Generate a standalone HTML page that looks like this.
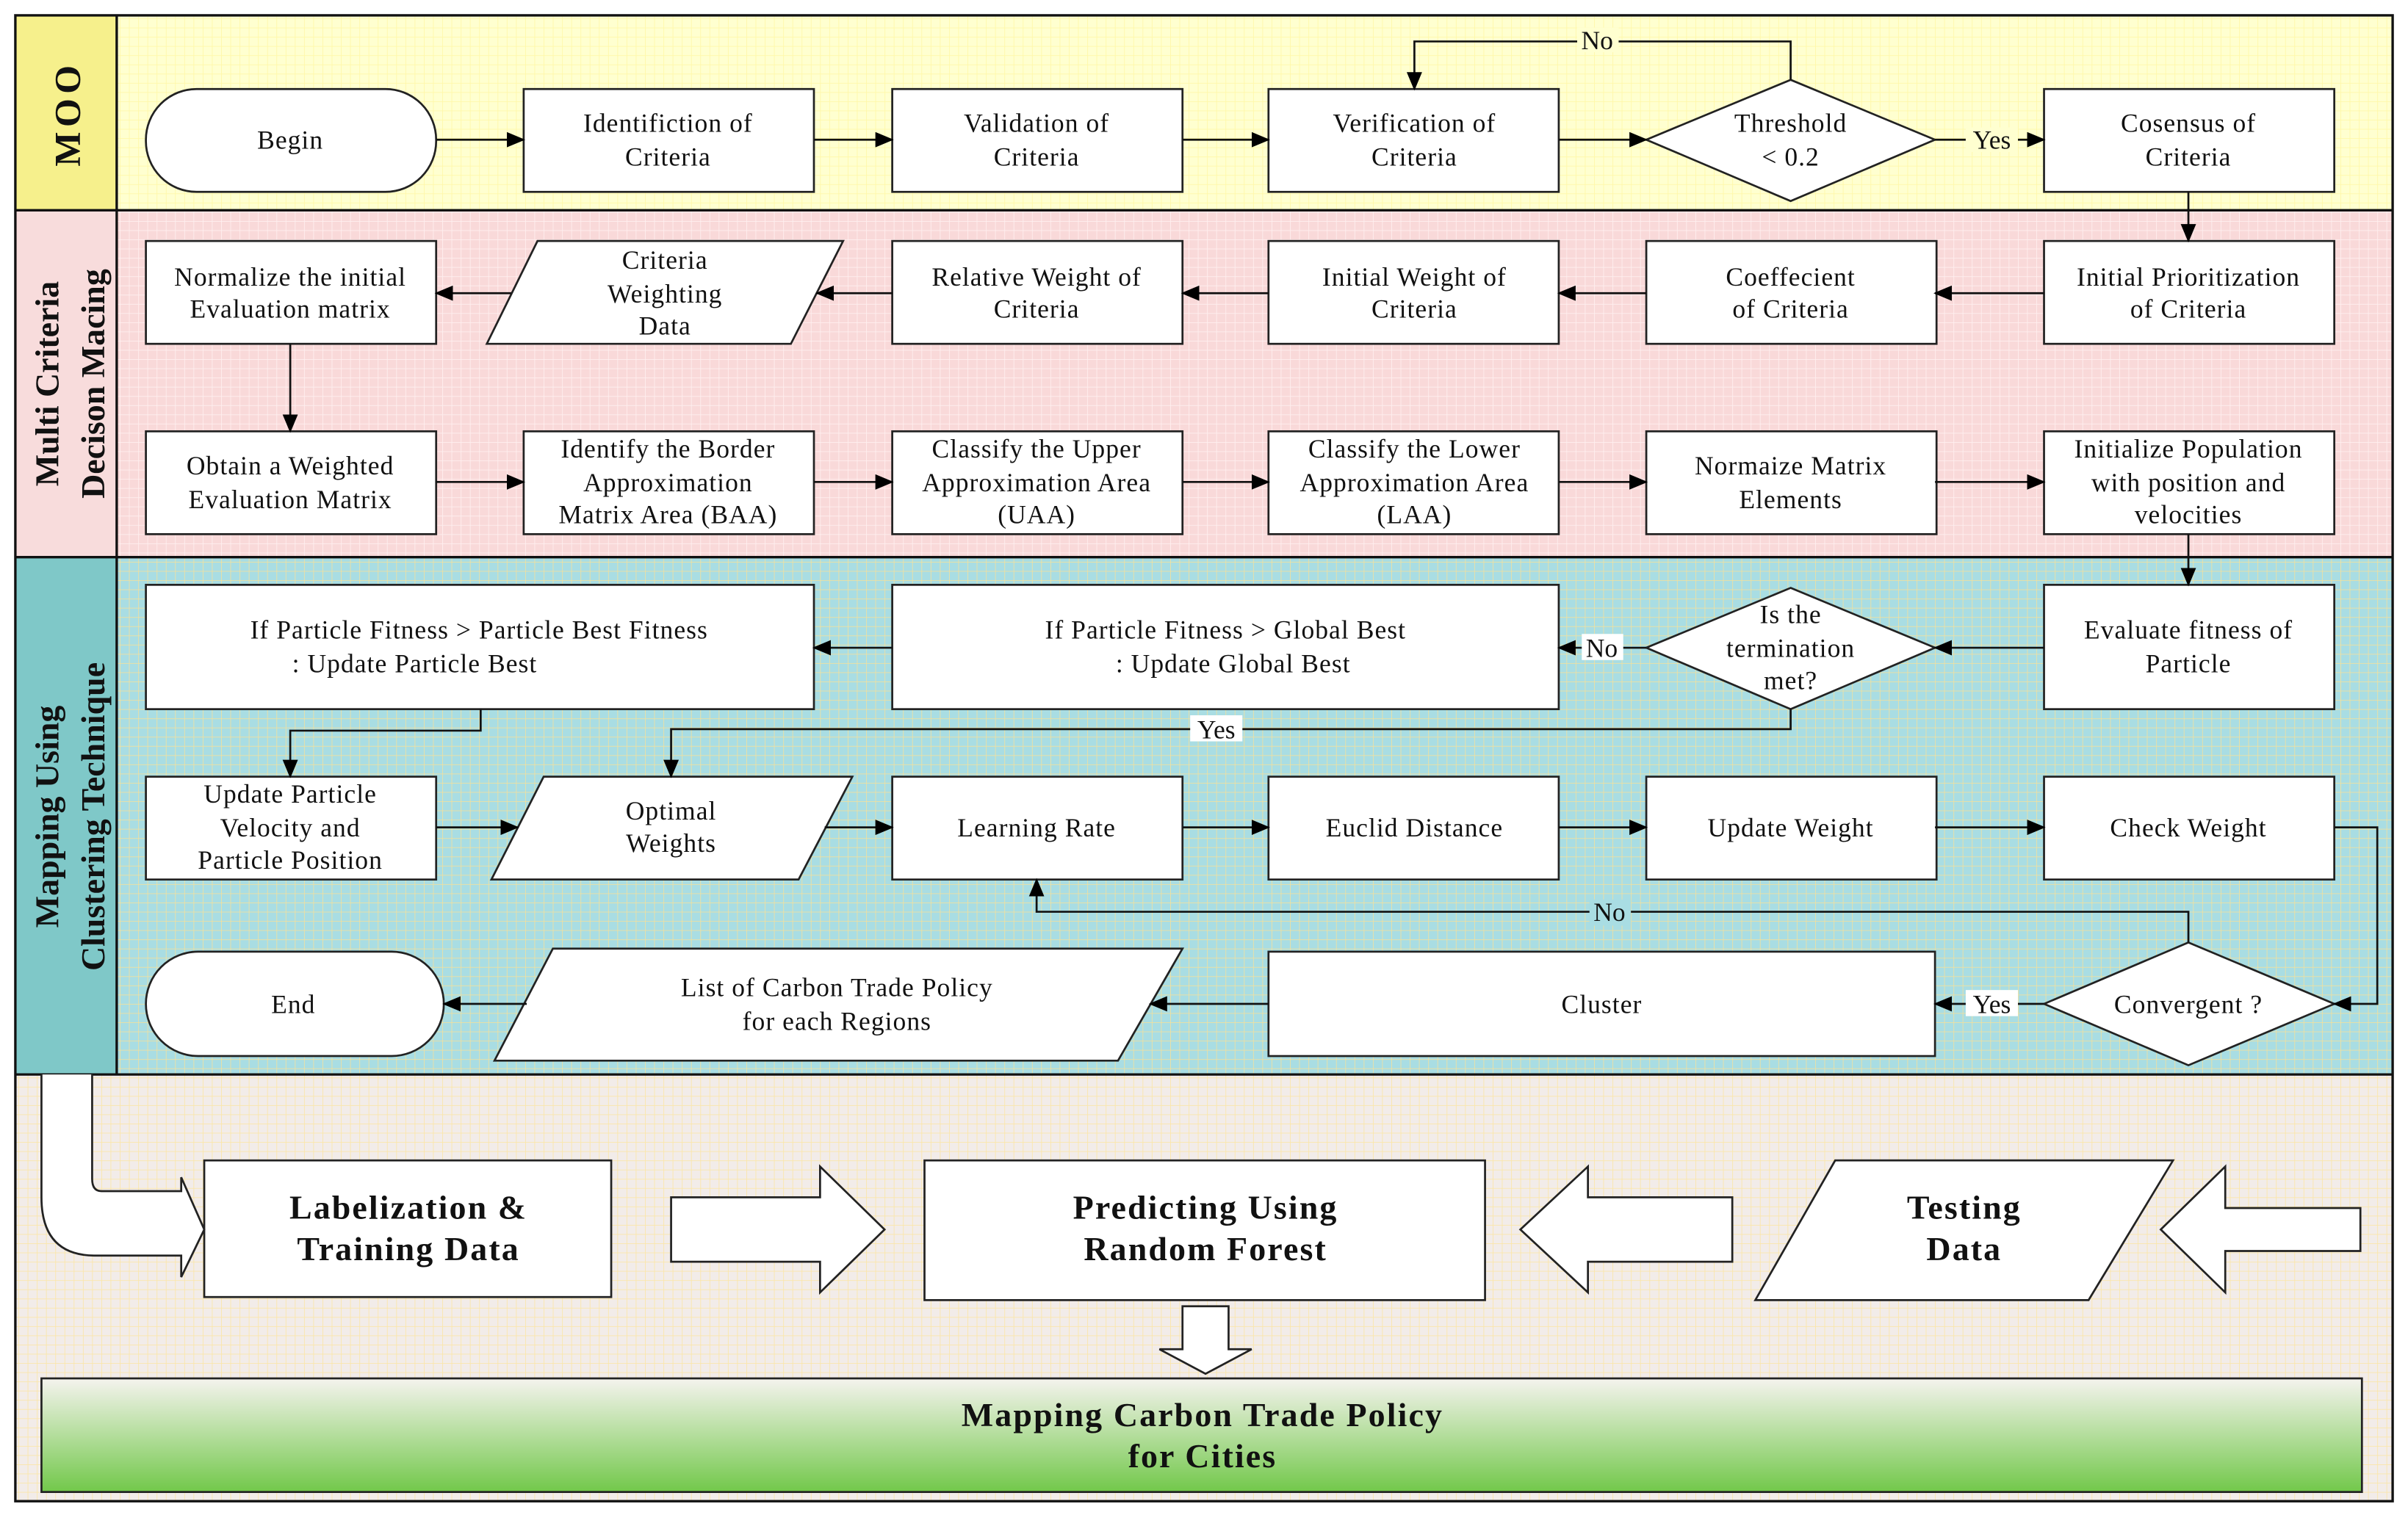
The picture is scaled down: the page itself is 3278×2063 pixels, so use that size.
<!DOCTYPE html>
<html><head><meta charset="utf-8"><style>
html,body{margin:0;padding:0;background:#fff;}
svg{display:block;}
text{font-family:"Liberation Serif",serif;font-size:17px;fill:#111;}
.b{font-weight:bold;}
</style></head><body>
<svg width="3278" height="2063" viewBox="0 0 1568 987" preserveAspectRatio="none" xmlns="http://www.w3.org/2000/svg">
<defs>
<marker id="ah" markerWidth="12" markerHeight="10" refX="11" refY="5" orient="auto" markerUnits="userSpaceOnUse">
<path d="M0,0 L12,5 L0,10 Z" fill="#000"/></marker>
<pattern id="gy" width="6" height="6" patternUnits="userSpaceOnUse"><rect width="6" height="6" fill="#ffffd0"/><path d="M0,0H6M0,0V6" stroke="#fff8a8" stroke-width="0.8"/></pattern>
<pattern id="gp" width="6" height="6" patternUnits="userSpaceOnUse"><rect width="6" height="6" fill="#f9d9d9"/><path d="M0,0H6M0,0V6" stroke="#fff0f0" stroke-width="0.8"/></pattern>
<pattern id="gb" width="6" height="6" patternUnits="userSpaceOnUse"><rect width="6" height="6" fill="#a9dde3"/><path d="M0,0H6M0,0V6" stroke="#f0e0a0" stroke-width="0.8"/></pattern>
<pattern id="gw" width="6" height="6" patternUnits="userSpaceOnUse"><rect width="6" height="6" fill="#f2ece9"/><path d="M0,0H6M0,0V6" stroke="#fbe6a8" stroke-width="0.8"/></pattern>
<linearGradient id="gg" x1="0" y1="0" x2="0" y2="1"><stop offset="0" stop-color="#f5f3ee"/><stop offset="1" stop-color="#72c84a"/></linearGradient>
</defs>
<rect width="1568" height="987" fill="#fff"/>
<!-- lanes -->
<rect x="10" y="10" width="1548" height="127" fill="url(#gy)"/>
<rect x="10" y="137" width="1548" height="226" fill="url(#gp)"/>
<rect x="10" y="363" width="1548" height="337" fill="url(#gb)"/>
<rect x="10" y="700" width="1548" height="278" fill="url(#gw)"/>
<rect x="10" y="10" width="66" height="127" fill="#f6f08c"/>
<rect x="10" y="137" width="66" height="226" fill="#f8dcdc"/>
<rect x="10" y="363" width="66" height="337" fill="#7fc8c8"/>
<g stroke="#111" stroke-width="1.6" fill="none">
<rect x="10" y="10" width="1548" height="968"/>
<line x1="10" y1="137" x2="1558" y2="137"/>
<line x1="10" y1="363" x2="1558" y2="363"/>
<line x1="10" y1="700" x2="1558" y2="700"/>
<line x1="76" y1="10" x2="76" y2="700"/>
</g>
<text class="b" transform="translate(52,74) rotate(-90)" text-anchor="middle" style="font-size:24px;letter-spacing:3px">MOO</text>
<text class="b" transform="translate(38,250) rotate(-90)" text-anchor="middle" style="font-size:22px">Multi Criteria</text>
<text class="b" transform="translate(68,250) rotate(-90)" text-anchor="middle" style="font-size:22px">Decison Macing</text>
<text class="b" transform="translate(38,532) rotate(-90)" text-anchor="middle" style="font-size:22px">Mapping Using</text>
<text class="b" transform="translate(68,532) rotate(-90)" text-anchor="middle" style="font-size:22px">Clustering Technique</text>

<g fill="#fff" stroke="#222" stroke-width="1.3">
<!-- row1 -->
<rect x="95" y="58" width="189" height="67" rx="33"/>
<rect x="341" y="58" width="189" height="67"/>
<rect x="581" y="58" width="189" height="67"/>
<rect x="826" y="58" width="189" height="67"/>
<polygon points="1166,52 1260,91 1166,131 1072,91"/>
<rect x="1331" y="58" width="189" height="67"/>
<!-- row2 -->
<rect x="95" y="157" width="189" height="67"/>
<polygon points="350,157 549,157 515,224 317,224"/>
<rect x="581" y="157" width="189" height="67"/>
<rect x="826" y="157" width="189" height="67"/>
<rect x="1072" y="157" width="189" height="67"/>
<rect x="1331" y="157" width="189" height="67"/>
<!-- row3 -->
<rect x="95" y="281" width="189" height="67"/>
<rect x="341" y="281" width="189" height="67"/>
<rect x="581" y="281" width="189" height="67"/>
<rect x="826" y="281" width="189" height="67"/>
<rect x="1072" y="281" width="189" height="67"/>
<rect x="1331" y="281" width="189" height="67"/>
<!-- row4 -->
<rect x="95" y="381" width="435" height="81"/>
<rect x="581" y="381" width="434" height="81"/>
<polygon points="1166,383 1260,422 1166,462 1072,422"/>
<rect x="1331" y="381" width="189" height="81"/>
<!-- row5 -->
<rect x="95" y="506" width="189" height="67"/>
<polygon points="354,506 555,506 520,573 320,573"/>
<rect x="581" y="506" width="189" height="67"/>
<rect x="826" y="506" width="189" height="67"/>
<rect x="1072" y="506" width="189" height="67"/>
<rect x="1331" y="506" width="189" height="67"/>
<!-- row6 -->
<rect x="95" y="620" width="194" height="68" rx="34"/>
<polygon points="360,618 770,618 728,691 322,691"/>
<rect x="826" y="620" width="434" height="68"/>
<polygon points="1425,614 1520,654 1425,694 1331,654"/>
<!-- bottom -->
<rect x="133" y="756" width="265" height="89"/>
<rect x="602" y="756" width="365" height="91"/>
<polygon points="1195,756 1415,756 1360,847 1143,847"/>
<rect x="27" y="898" width="1511" height="74" fill="url(#gg)"/>
<!-- block arrows -->
<polygon points="437,780 534,780 534,760 576,801 534,842 534,822 437,822"/>
<polygon points="1128,780 1034,780 1034,760 990,801 1034,842 1034,822 1128,822"/>
<polygon points="1537,787 1449,787 1449,760 1407,801 1449,842 1449,815 1537,815"/>
<polygon points="770,851 800,851 800,879 815,879 785,895 755,879 770,879"/>
<path d="M27,700 L27,780 Q27,818 62,818 L118,818 L118,832 L133,801 L118,767 L118,776 L66,776 Q60,776 60,768 L60,700"/>
</g>

<!-- connectors -->
<g stroke="#111" stroke-width="1.3" fill="none" marker-end="url(#ah)">
<line x1="284" y1="91" x2="341" y2="91"/>
<line x1="530" y1="91" x2="581" y2="91"/>
<line x1="770" y1="91" x2="826" y2="91"/>
<line x1="1015" y1="91" x2="1072" y2="91"/>
<line x1="1260" y1="91" x2="1331" y2="91"/>
<polyline points="1166,52 1166,27 921,27 921,58"/>
<line x1="1425" y1="125" x2="1425" y2="157"/>
<line x1="1331" y1="191" x2="1260" y2="191"/>
<line x1="1072" y1="191" x2="1015" y2="191"/>
<line x1="826" y1="191" x2="770" y2="191"/>
<line x1="581" y1="191" x2="532" y2="191"/>
<line x1="333" y1="191" x2="284" y2="191"/>
<line x1="189" y1="224" x2="189" y2="281"/>
<line x1="284" y1="314" x2="341" y2="314"/>
<line x1="530" y1="314" x2="581" y2="314"/>
<line x1="770" y1="314" x2="826" y2="314"/>
<line x1="1015" y1="314" x2="1072" y2="314"/>
<line x1="1260" y1="314" x2="1331" y2="314"/>
<line x1="1425" y1="348" x2="1425" y2="381"/>
<line x1="1331" y1="422" x2="1260" y2="422"/>
<line x1="1072" y1="422" x2="1015" y2="422"/>
<line x1="581" y1="422" x2="530" y2="422"/>
<polyline points="313,462 313,476 189,476 189,506"/>
<polyline points="1166,462 1166,475 437,475 437,506"/>
<line x1="284" y1="539" x2="337" y2="539"/>
<line x1="537" y1="539" x2="581" y2="539"/>
<line x1="770" y1="539" x2="826" y2="539"/>
<line x1="1015" y1="539" x2="1072" y2="539"/>
<line x1="1260" y1="539" x2="1331" y2="539"/>
<polyline points="1520,539 1548,539 1548,654 1520,654"/>
<polyline points="1425,614 1425,594 675,594 675,573"/>
<line x1="1331" y1="654" x2="1260" y2="654"/>
<line x1="826" y1="654" x2="749" y2="654"/>
<line x1="343" y1="654" x2="289" y2="654"/>
</g>
<!-- connector labels -->
<g>
<rect x="1027" y="18" width="27" height="16" fill="#ffffd0"/><text x="1040" y="32" text-anchor="middle">No</text>
<rect x="1280" y="83" width="34" height="16" fill="#ffffd0"/><text x="1297" y="97" text-anchor="middle">Yes</text>
<rect x="1030" y="413" width="27" height="17" fill="#fff"/><text x="1043" y="428" text-anchor="middle">No</text>
<rect x="775" y="466" width="34" height="17" fill="#fff"/><text x="792" y="481" text-anchor="middle">Yes</text>
<rect x="1035" y="586" width="27" height="17" fill="#a9dde3"/><text x="1048" y="600" text-anchor="middle">No</text>
<rect x="1280" y="645" width="34" height="17" fill="#fff"/><text x="1297" y="660" text-anchor="middle">Yes</text>
</g>
<!-- node text -->
<g text-anchor="middle" style="letter-spacing:0.5px">
<text x="189" y="97">Begin</text>
<text x="435" y="86">Identifiction of</text><text x="435" y="108">Criteria</text>
<text x="675" y="86">Validation of</text><text x="675" y="108">Criteria</text>
<text x="921" y="86">Verification  of</text><text x="921" y="108">Criteria</text>
<text x="1166" y="86">Threshold</text><text x="1166" y="108">&lt; 0.2</text>
<text x="1425" y="86">Cosensus of</text><text x="1425" y="108">Criteria</text>

<text x="189" y="186">Normalize the initial</text><text x="189" y="207">Evaluation matrix</text>
<text x="433" y="175">Criteria</text><text x="433" y="197">Weighting</text><text x="433" y="218">Data</text>
<text x="675" y="186">Relative  Weight of</text><text x="675" y="207">Criteria</text>
<text x="921" y="186">Initial Weight of</text><text x="921" y="207">Criteria</text>
<text x="1166" y="186">Coeffecient</text><text x="1166" y="207">of Criteria</text>
<text x="1425" y="186">Initial Prioritization</text><text x="1425" y="207">of Criteria</text>

<text x="189" y="309">Obtain a Weighted</text><text x="189" y="331">Evaluation Matrix</text>
<text x="435" y="298">Identify the Border</text><text x="435" y="320">Approximation</text><text x="435" y="341">Matrix Area (BAA)</text>
<text x="675" y="298">Classify the Upper</text><text x="675" y="320">Approximation Area</text><text x="675" y="341">(UAA)</text>
<text x="921" y="298">Classify the Lower</text><text x="921" y="320">Approximation Area</text><text x="921" y="341">(LAA)</text>
<text x="1166" y="309">Normaize Matrix</text><text x="1166" y="331">Elements</text>
<text x="1425" y="298">Initialize Population</text><text x="1425" y="320">with position and</text><text x="1425" y="341">velocities</text>

<text x="312" y="416">If Particle Fitness  &gt; Particle Best Fitness</text><text x="270" y="438">: Update Particle Best</text>
<text x="798" y="416">If  Particle Fitness  &gt; Global Best</text><text x="803" y="438">: Update Global Best</text>
<text x="1166" y="406">Is the</text><text x="1166" y="428">termination</text><text x="1166" y="449">met?</text>
<text x="1425" y="416">Evaluate fitness of</text><text x="1425" y="438">Particle</text>

<text x="189" y="523">Update Particle</text><text x="189" y="545">Velocity and</text><text x="189" y="566">Particle Position</text>
<text x="437" y="534">Optimal</text><text x="437" y="555">Weights</text>
<text x="675" y="545">Learning Rate</text>
<text x="921" y="545">Euclid Distance</text>
<text x="1166" y="545">Update Weight</text>
<text x="1425" y="545">Check Weight</text>

<text x="191" y="660">End</text>
<text x="545" y="649">List of Carbon Trade Policy</text><text x="545" y="671">for each Regions</text>
<text x="1043" y="660">Cluster</text>
<text x="1425" y="660">Convergent ?</text>
</g>
<g text-anchor="middle" class="b" style="font-size:22px;font-weight:bold;letter-spacing:1px">
<text class="b" x="266" y="794" style="font-size:22px">Labelization &amp;</text><text class="b" x="266" y="821" style="font-size:22px">Training Data</text>
<text class="b" x="785" y="794" style="font-size:22px">Predicting Using</text><text class="b" x="785" y="821" style="font-size:22px">Random Forest</text>
<text class="b" x="1279" y="794" style="font-size:22px">Testing</text><text class="b" x="1279" y="821" style="font-size:22px">Data</text>
<text class="b" x="783" y="929" style="font-size:22px">Mapping Carbon Trade Policy</text><text class="b" x="783" y="956" style="font-size:22px">for Cities</text>
</g>
</svg>
</body></html>
